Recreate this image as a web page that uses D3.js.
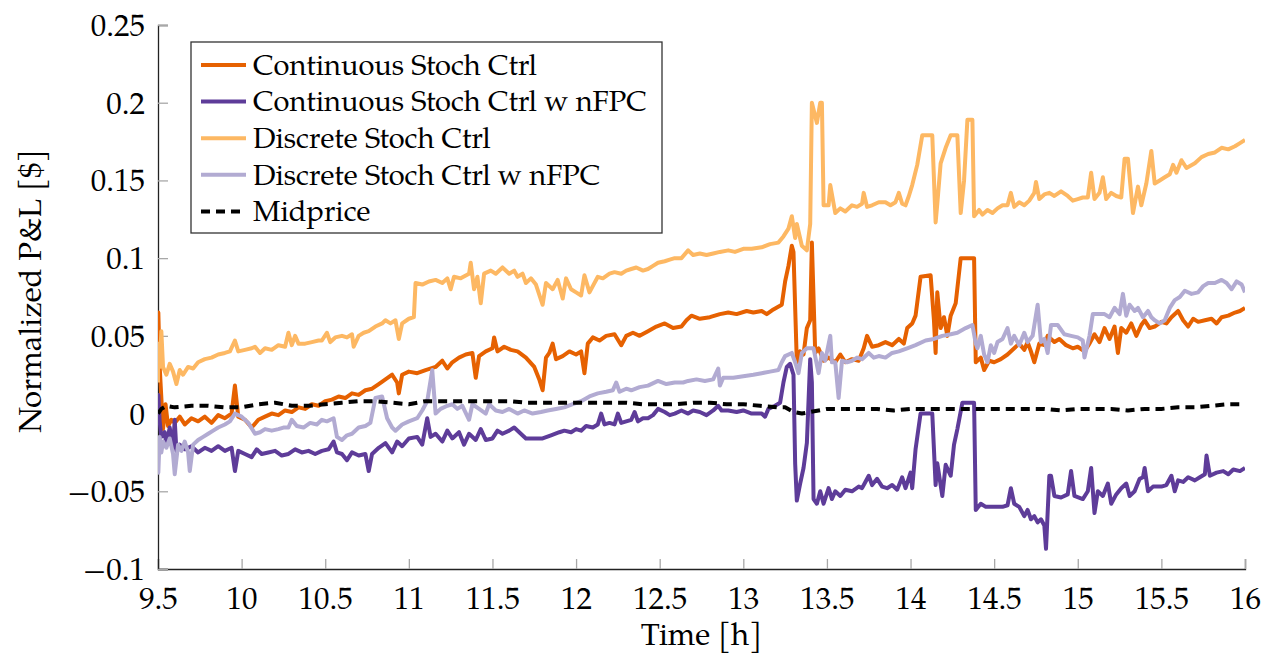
<!DOCTYPE html>
<html>
<head>
<meta charset="utf-8">
<script src="https://cdnjs.cloudflare.com/ajax/libs/d3/7.8.5/d3.min.js"></script>
<style>
  body { margin: 0; background: #fff; }
</style>
</head>
<body>
<div id="chart"></div>
<script>
// time [h] , normalized P&L [$]
var contStoch = [[9.5,0.028],[9.502,0.065],[9.51,0.03],[9.53,-0.01],[9.545,0.006],[9.56,-0.008],[9.58,-0.004],[9.6,-0.006],[9.63,-0.002],[9.66,-0.007],[9.7,-0.003],[9.74,-0.005],[9.78,-0.002],[9.82,-0.006],[9.86,-0.001],[9.9,-0.003],[9.94,0.0],[9.96,0.018],[9.98,-0.002],[10.02,-0.004],[10.06,-0.009],[10.1,-0.004],[10.14,-0.002],[10.18,0.0],[10.22,-0.001],[10.26,0.002],[10.3,0.001],[10.34,0.004],[10.38,0.003],[10.42,0.006],[10.46,0.005],[10.5,0.008],[10.54,0.009],[10.58,0.011],[10.62,0.01],[10.66,0.013],[10.7,0.012],[10.74,0.015],[10.78,0.016],[10.82,0.019],[10.86,0.022],[10.9,0.025],[10.93,0.02],[10.94,0.013],[10.96,0.025],[11.0,0.027],[11.05,0.026],[11.1,0.028],[11.16,0.03],[11.2,0.034],[11.23,0.029],[11.26,0.033],[11.3,0.036],[11.34,0.038],[11.38,0.039],[11.4,0.023],[11.42,0.037],[11.46,0.04],[11.5,0.042],[11.51,0.049],[11.53,0.04],[11.57,0.043],[11.61,0.041],[11.65,0.04],[11.7,0.036],[11.75,0.03],[11.78,0.022],[11.8,0.015],[11.82,0.036],[11.84,0.039],[11.86,0.045],[11.88,0.035],[11.92,0.037],[11.96,0.04],[12.0,0.038],[12.03,0.04],[12.05,0.026],[12.07,0.045],[12.1,0.049],[12.14,0.047],[12.18,0.05],[12.23,0.051],[12.27,0.044],[12.3,0.05],[12.34,0.052],[12.38,0.05],[12.43,0.053],[12.48,0.056],[12.53,0.058],[12.58,0.055],[12.63,0.056],[12.66,0.06],[12.69,0.063],[12.74,0.061],[12.8,0.062],[12.86,0.064],[12.91,0.065],[12.96,0.064],[13.02,0.066],[13.06,0.065],[13.11,0.066],[13.14,0.064],[13.18,0.067],[13.23,0.07],[13.25,0.085],[13.27,0.095],[13.29,0.108],[13.3,0.104],[13.32,0.033],[13.34,0.04],[13.36,0.038],[13.38,0.055],[13.4,0.06],[13.41,0.11],[13.43,0.039],[13.45,0.042],[13.48,0.034],[13.51,0.036],[13.55,0.033],[13.58,0.038],[13.61,0.033],[13.65,0.035],[13.69,0.034],[13.72,0.042],[13.74,0.05],[13.77,0.043],[13.81,0.044],[13.85,0.046],[13.89,0.044],[13.93,0.048],[13.96,0.045],[13.98,0.055],[14.01,0.058],[14.03,0.063],[14.06,0.088],[14.12,0.089],[14.14,0.06],[14.15,0.039],[14.16,0.078],[14.18,0.055],[14.2,0.062],[14.22,0.05],[14.24,0.063],[14.27,0.071],[14.3,0.1],[14.38,0.1],[14.39,0.033],[14.42,0.036],[14.44,0.028],[14.47,0.034],[14.5,0.033],[14.54,0.035],[14.58,0.038],[14.62,0.042],[14.65,0.045],[14.68,0.041],[14.7,0.046],[14.72,0.04],[14.74,0.033],[14.77,0.045],[14.8,0.044],[14.82,0.05],[14.86,0.046],[14.89,0.048],[14.93,0.044],[14.97,0.042],[15.0,0.043],[15.04,0.04],[15.07,0.045],[15.1,0.051],[15.13,0.046],[15.16,0.055],[15.19,0.048],[15.22,0.056],[15.24,0.039],[15.26,0.055],[15.29,0.052],[15.32,0.058],[15.35,0.05],[15.38,0.057],[15.4,0.06],[15.43,0.055],[15.46,0.056],[15.5,0.059],[15.53,0.058],[15.56,0.062],[15.6,0.066],[15.63,0.06],[15.66,0.056],[15.69,0.061],[15.72,0.059],[15.76,0.06],[15.8,0.061],[15.83,0.058],[15.86,0.062],[15.9,0.063],[15.94,0.065],[15.97,0.066],[16.0,0.068]];

var contStochNFPC = [[9.5,0.0],[9.502,0.012],[9.51,-0.005],[9.52,-0.015],[9.54,-0.012],[9.55,-0.02],[9.57,-0.009],[9.59,-0.022],[9.6,-0.004],[9.61,-0.024],[9.63,-0.02],[9.66,-0.023],[9.7,-0.021],[9.74,-0.025],[9.78,-0.022],[9.82,-0.024],[9.86,-0.021],[9.9,-0.024],[9.94,-0.022],[9.96,-0.037],[9.98,-0.024],[10.02,-0.026],[10.06,-0.028],[10.09,-0.023],[10.12,-0.026],[10.16,-0.025],[10.2,-0.024],[10.24,-0.027],[10.28,-0.026],[10.32,-0.023],[10.36,-0.025],[10.4,-0.024],[10.44,-0.026],[10.48,-0.024],[10.52,-0.023],[10.55,-0.018],[10.57,-0.025],[10.6,-0.026],[10.63,-0.03],[10.66,-0.025],[10.7,-0.027],[10.74,-0.026],[10.76,-0.037],[10.78,-0.026],[10.82,-0.022],[10.86,-0.019],[10.9,-0.025],[10.93,-0.018],[10.96,-0.021],[11.0,-0.016],[11.05,-0.015],[11.08,-0.02],[11.11,-0.003],[11.13,-0.015],[11.16,-0.013],[11.2,-0.018],[11.23,-0.011],[11.26,-0.016],[11.3,-0.012],[11.33,-0.02],[11.36,-0.013],[11.4,-0.017],[11.43,-0.01],[11.46,-0.017],[11.5,-0.016],[11.53,-0.011],[11.56,-0.013],[11.6,-0.011],[11.63,-0.009],[11.66,-0.012],[11.7,-0.016],[11.75,-0.016],[11.8,-0.016],[11.85,-0.014],[11.9,-0.012],[11.93,-0.011],[11.97,-0.012],[12.0,-0.01],[12.03,-0.011],[12.06,-0.008],[12.1,-0.009],[12.13,-0.007],[12.15,0.0],[12.17,-0.007],[12.2,-0.006],[12.23,-0.007],[12.25,0.0],[12.27,-0.006],[12.3,-0.005],[12.33,-0.004],[12.35,0.001],[12.37,-0.005],[12.4,-0.003],[12.43,-0.003],[12.46,-0.001],[12.49,0.003],[12.53,0.001],[12.56,-0.001],[12.59,0.0],[12.63,0.002],[12.67,0.0],[12.7,0.002],[12.74,0.001],[12.78,-0.001],[12.82,0.002],[12.85,0.005],[12.87,0.002],[12.91,0.002],[12.96,0.001],[13.0,0.002],[13.05,0.0],[13.11,0.0],[13.13,-0.002],[13.15,0.003],[13.19,0.005],[13.22,0.007],[13.24,0.02],[13.26,0.03],[13.28,0.032],[13.3,0.025],[13.31,-0.032],[13.32,-0.056],[13.34,-0.045],[13.35,-0.04],[13.36,-0.035],[13.38,-0.019],[13.4,0.035],[13.41,0.02],[13.42,-0.055],[13.44,-0.058],[13.46,-0.05],[13.48,-0.058],[13.51,-0.048],[13.53,-0.055],[13.55,-0.05],[13.58,-0.053],[13.61,-0.049],[13.65,-0.05],[13.69,-0.047],[13.71,-0.048],[13.73,-0.044],[13.75,-0.04],[13.77,-0.046],[13.8,-0.042],[13.83,-0.047],[13.86,-0.048],[13.89,-0.046],[13.92,-0.049],[13.95,-0.041],[13.97,-0.048],[14.0,-0.038],[14.01,-0.048],[14.03,-0.023],[14.06,0.0],[14.13,0.0],[14.15,-0.046],[14.16,-0.032],[14.19,-0.053],[14.21,-0.033],[14.24,-0.04],[14.26,-0.02],[14.28,-0.01],[14.31,0.007],[14.38,0.007],[14.39,-0.062],[14.42,-0.058],[14.45,-0.06],[14.5,-0.06],[14.55,-0.06],[14.58,-0.059],[14.6,-0.048],[14.62,-0.058],[14.65,-0.06],[14.68,-0.066],[14.7,-0.062],[14.72,-0.068],[14.74,-0.066],[14.76,-0.07],[14.78,-0.068],[14.8,-0.072],[14.81,-0.087],[14.83,-0.04],[14.84,-0.04],[14.86,-0.053],[14.9,-0.054],[14.94,-0.052],[14.96,-0.037],[14.98,-0.053],[15.03,-0.055],[15.06,-0.05],[15.08,-0.035],[15.1,-0.064],[15.12,-0.05],[15.15,-0.053],[15.18,-0.045],[15.2,-0.058],[15.23,-0.052],[15.26,-0.048],[15.29,-0.045],[15.31,-0.053],[15.34,-0.05],[15.37,-0.042],[15.39,-0.041],[15.4,-0.035],[15.42,-0.05],[15.45,-0.047],[15.5,-0.047],[15.53,-0.046],[15.56,-0.04],[15.58,-0.05],[15.6,-0.043],[15.63,-0.044],[15.66,-0.041],[15.7,-0.043],[15.73,-0.041],[15.76,-0.039],[15.77,-0.027],[15.79,-0.04],[15.83,-0.038],[15.87,-0.037],[15.9,-0.039],[15.93,-0.036],[15.97,-0.037],[16.0,-0.035]];

var discStoch = [[9.5,0.02],[9.502,0.045],[9.51,0.03],[9.52,0.053],[9.53,0.03],[9.55,0.025],[9.57,0.032],[9.59,0.027],[9.61,0.019],[9.63,0.028],[9.65,0.025],[9.68,0.03],[9.71,0.029],[9.74,0.033],[9.78,0.035],[9.82,0.036],[9.86,0.038],[9.9,0.039],[9.93,0.04],[9.96,0.047],[9.98,0.04],[10.02,0.041],[10.06,0.042],[10.08,0.043],[10.11,0.039],[10.14,0.042],[10.18,0.041],[10.22,0.044],[10.26,0.043],[10.28,0.052],[10.3,0.044],[10.32,0.05],[10.34,0.045],[10.38,0.045],[10.42,0.046],[10.46,0.047],[10.48,0.047],[10.51,0.052],[10.53,0.046],[10.56,0.049],[10.6,0.05],[10.63,0.049],[10.66,0.051],[10.67,0.043],[10.7,0.05],[10.73,0.052],[10.76,0.053],[10.8,0.056],[10.84,0.058],[10.86,0.06],[10.89,0.058],[10.92,0.06],[10.94,0.048],[10.96,0.058],[11.0,0.061],[11.03,0.062],[11.04,0.084],[11.08,0.083],[11.12,0.085],[11.16,0.086],[11.2,0.084],[11.23,0.087],[11.25,0.08],[11.27,0.088],[11.31,0.087],[11.36,0.09],[11.37,0.097],[11.39,0.08],[11.41,0.088],[11.43,0.071],[11.45,0.09],[11.49,0.092],[11.52,0.09],[11.56,0.094],[11.6,0.09],[11.63,0.092],[11.65,0.088],[11.68,0.09],[11.7,0.084],[11.73,0.087],[11.76,0.083],[11.8,0.07],[11.82,0.084],[11.86,0.08],[11.89,0.086],[11.92,0.074],[11.94,0.087],[11.97,0.08],[12.0,0.078],[12.03,0.076],[12.05,0.089],[12.08,0.078],[12.1,0.082],[12.13,0.088],[12.16,0.087],[12.2,0.09],[12.23,0.091],[12.27,0.09],[12.3,0.092],[12.33,0.093],[12.36,0.094],[12.4,0.092],[12.43,0.093],[12.46,0.095],[12.49,0.097],[12.53,0.098],[12.56,0.099],[12.59,0.1],[12.63,0.1],[12.67,0.105],[12.7,0.102],[12.74,0.103],[12.78,0.102],[12.82,0.103],[12.86,0.104],[12.91,0.105],[12.95,0.104],[13.0,0.106],[13.05,0.106],[13.11,0.107],[13.16,0.109],[13.21,0.11],[13.24,0.114],[13.27,0.119],[13.29,0.127],[13.31,0.113],[13.32,0.122],[13.35,0.108],[13.38,0.105],[13.4,0.122],[13.41,0.2],[13.44,0.187],[13.46,0.2],[13.47,0.2],[13.48,0.134],[13.51,0.134],[13.52,0.147],[13.55,0.129],[13.58,0.132],[13.61,0.13],[13.65,0.134],[13.68,0.133],[13.71,0.135],[13.72,0.142],[13.74,0.133],[13.77,0.134],[13.81,0.136],[13.85,0.136],[13.88,0.134],[13.91,0.136],[13.93,0.142],[13.95,0.135],[13.97,0.134],[13.99,0.14],[14.01,0.147],[14.04,0.16],[14.07,0.179],[14.13,0.179],[14.15,0.123],[14.16,0.135],[14.18,0.161],[14.21,0.171],[14.24,0.179],[14.28,0.179],[14.3,0.129],[14.32,0.15],[14.34,0.189],[14.37,0.189],[14.38,0.127],[14.41,0.131],[14.43,0.128],[14.46,0.131],[14.49,0.129],[14.52,0.132],[14.55,0.134],[14.58,0.134],[14.6,0.142],[14.62,0.133],[14.65,0.136],[14.68,0.134],[14.71,0.137],[14.74,0.142],[14.75,0.149],[14.77,0.138],[14.8,0.141],[14.83,0.142],[14.86,0.14],[14.9,0.143],[14.94,0.14],[14.97,0.137],[15.0,0.138],[15.03,0.139],[15.06,0.139],[15.08,0.155],[15.1,0.138],[15.13,0.142],[15.15,0.152],[15.17,0.138],[15.2,0.142],[15.23,0.14],[15.26,0.139],[15.28,0.164],[15.3,0.164],[15.33,0.129],[15.36,0.146],[15.38,0.134],[15.41,0.148],[15.44,0.169],[15.46,0.148],[15.49,0.15],[15.52,0.152],[15.55,0.154],[15.57,0.16],[15.59,0.155],[15.62,0.163],[15.65,0.158],[15.7,0.161],[15.74,0.165],[15.78,0.167],[15.82,0.168],[15.86,0.171],[15.9,0.17],[15.94,0.172],[15.97,0.174],[16.0,0.176]];

var discStochNFPC = [[9.5,-0.02],[9.502,-0.038],[9.51,-0.015],[9.52,-0.025],[9.53,-0.018],[9.55,-0.022],[9.57,-0.016],[9.59,-0.026],[9.6,-0.039],[9.62,-0.02],[9.64,-0.024],[9.66,-0.018],[9.68,-0.025],[9.69,-0.037],[9.71,-0.02],[9.74,-0.017],[9.77,-0.015],[9.8,-0.013],[9.83,-0.011],[9.86,-0.009],[9.9,-0.007],[9.93,-0.005],[9.96,0.0],[10.0,-0.002],[10.04,-0.006],[10.08,-0.013],[10.11,-0.012],[10.14,-0.01],[10.18,-0.011],[10.22,-0.01],[10.25,-0.009],[10.28,-0.009],[10.3,-0.004],[10.33,-0.008],[10.37,-0.009],[10.41,-0.006],[10.45,-0.007],[10.48,-0.004],[10.51,-0.005],[10.55,-0.003],[10.57,-0.015],[10.6,-0.017],[10.63,-0.014],[10.66,-0.013],[10.7,-0.009],[10.74,-0.008],[10.77,-0.006],[10.8,0.01],[10.84,0.011],[10.87,-0.003],[10.9,-0.009],[10.92,-0.011],[10.96,-0.007],[11.0,-0.005],[11.05,-0.003],[11.08,0.002],[11.11,0.008],[11.14,0.028],[11.16,0.0],[11.19,0.003],[11.23,0.005],[11.26,0.006],[11.29,0.003],[11.32,0.005],[11.36,-0.004],[11.38,0.006],[11.42,0.003],[11.46,0.0],[11.48,0.006],[11.52,0.002],[11.56,0.001],[11.6,0.003],[11.65,0.0],[11.69,0.002],[11.74,0.0],[11.79,0.001],[11.83,0.002],[11.88,0.003],[11.93,0.004],[11.98,0.006],[12.03,0.008],[12.08,0.011],[12.13,0.013],[12.18,0.014],[12.22,0.015],[12.24,0.02],[12.26,0.014],[12.3,0.016],[12.33,0.015],[12.38,0.017],[12.43,0.018],[12.49,0.021],[12.54,0.019],[12.59,0.02],[12.64,0.02],[12.67,0.021],[12.72,0.022],[12.77,0.021],[12.82,0.022],[12.85,0.029],[12.86,0.018],[12.88,0.023],[12.94,0.023],[13.0,0.024],[13.06,0.025],[13.11,0.026],[13.16,0.027],[13.21,0.028],[13.23,0.033],[13.25,0.037],[13.29,0.039],[13.31,0.033],[13.33,0.026],[13.35,0.039],[13.38,0.042],[13.42,0.042],[13.45,0.026],[13.47,0.039],[13.49,0.034],[13.52,0.05],[13.53,0.033],[13.55,0.033],[13.57,0.01],[13.59,0.034],[13.62,0.033],[13.65,0.034],[13.68,0.036],[13.71,0.035],[13.75,0.039],[13.78,0.036],[13.81,0.037],[13.85,0.036],[13.89,0.039],[13.93,0.04],[13.98,0.042],[14.03,0.044],[14.09,0.047],[14.14,0.048],[14.19,0.05],[14.24,0.051],[14.28,0.052],[14.33,0.055],[14.37,0.057],[14.39,0.045],[14.4,0.042],[14.42,0.05],[14.44,0.038],[14.46,0.033],[14.48,0.044],[14.5,0.039],[14.52,0.046],[14.55,0.048],[14.58,0.055],[14.6,0.045],[14.62,0.05],[14.65,0.044],[14.68,0.052],[14.7,0.046],[14.73,0.05],[14.76,0.07],[14.78,0.046],[14.8,0.048],[14.82,0.039],[14.84,0.057],[14.88,0.057],[14.92,0.051],[14.96,0.05],[15.0,0.049],[15.03,0.047],[15.04,0.036],[15.07,0.05],[15.09,0.064],[15.12,0.064],[15.16,0.064],[15.19,0.062],[15.22,0.068],[15.25,0.064],[15.27,0.077],[15.29,0.063],[15.31,0.07],[15.34,0.066],[15.36,0.068],[15.39,0.062],[15.42,0.066],[15.44,0.062],[15.46,0.06],[15.49,0.058],[15.52,0.06],[15.55,0.068],[15.58,0.073],[15.61,0.075],[15.64,0.079],[15.68,0.077],[15.72,0.078],[15.75,0.082],[15.78,0.084],[15.82,0.084],[15.86,0.086],[15.89,0.084],[15.92,0.08],[15.95,0.085],[15.98,0.083],[16.0,0.078]];

var midprice = [[9.5,0.0],[9.52,0.003],[9.55,0.005],[9.6,0.004],[9.7,0.005],[9.8,0.005],[9.9,0.004],[10.0,0.004],[10.1,0.006],[10.2,0.007],[10.3,0.005],[10.4,0.005],[10.5,0.006],[10.6,0.007],[10.7,0.008],[10.8,0.008],[10.9,0.007],[11.0,0.006],[11.1,0.008],[11.2,0.008],[11.3,0.008],[11.4,0.008],[11.5,0.008],[11.6,0.008],[11.7,0.007],[11.8,0.007],[11.9,0.007],[12.0,0.007],[12.1,0.007],[12.2,0.007],[12.3,0.007],[12.4,0.006],[12.5,0.006],[12.6,0.006],[12.7,0.007],[12.8,0.007],[12.9,0.006],[13.0,0.006],[13.1,0.005],[13.2,0.004],[13.25,0.004],[13.3,0.001],[13.35,0.0],[13.4,0.001],[13.45,0.002],[13.5,0.003],[13.6,0.003],[13.7,0.003],[13.8,0.003],[13.9,0.002],[14.0,0.003],[14.1,0.003],[14.2,0.003],[14.3,0.003],[14.4,0.003],[14.5,0.003],[14.6,0.003],[14.7,0.003],[14.8,0.003],[14.9,0.002],[15.0,0.003],[15.1,0.003],[15.2,0.003],[15.3,0.002],[15.4,0.003],[15.5,0.003],[15.6,0.004],[15.7,0.004],[15.8,0.005],[15.9,0.006],[16.0,0.006]];

var seriesNames = ["Continuous Stoch Ctrl", "Continuous Stoch Ctrl w nFPC", "Discrete Stoch Ctrl", "Discrete Stoch Ctrl w nFPC", "Midprice"];
var seriesColors = ["#e66101", "#5e3c99", "#fdb863", "#b2abd2", "#000000"];
var xTicks = [9.5, 10, 10.5, 11, 11.5, 12, 12.5, 13, 13.5, 14, 14.5, 15, 15.5, 16];
var yTicks = [-0.1, -0.05, 0, 0.05, 0.1, 0.15, 0.2, 0.25];

var allSeries = [contStoch, contStochNFPC, discStoch, discStochNFPC, midprice];

var fontFam = "TeX Gyre Pagella, Liberation Serif, serif";

var margin = {top: 25, left: 158},
    width = 1245 - margin.left,
    height = 569 - margin.top;

var svg = d3.select("#chart").append("svg")
    .attr("width", 1265)
    .attr("height", 653)
    .attr("font-family", fontFam);

var g = svg.append("g")
    .attr("transform", "translate(" + margin.left + "," + margin.top + ")");

var xScale = d3.scaleLinear().domain([9.5, 16]).range([0, width]);
var yScale = d3.scaleLinear().domain([-0.1, 0.25]).range([height, 0]);

var fmtY = function(d) { return d === 0 ? "0" : (d < 0 ? "\u2212" + Math.abs(d) : "" + d); };

g.append("defs").append("clipPath").attr("id", "clip")
  .append("rect").attr("x", 0).attr("y", 0).attr("width", width).attr("height", height);

// axes (ticks point inward, like pgfplots)
var xAxis = d3.axisBottom(xScale).tickValues(xTicks).tickSize(-10).tickPadding(18).tickFormat(function(d) { return "" + d; });
var yAxis = d3.axisLeft(yScale).tickValues(yTicks).tickSize(-10).tickPadding(13).tickFormat(fmtY);

var gx = g.append("g").attr("transform", "translate(0," + height + ")").call(xAxis);
var gy = g.append("g").call(yAxis);

[gx, gy].forEach(function(a) {
  a.attr("font-family", fontFam).attr("font-size", 31);
  a.selectAll("text").attr("font-family", fontFam).attr("font-size", 31).attr("fill", "#000");
  a.selectAll(".tick line").attr("stroke", "#a8a8a8").attr("stroke-width", 1.3);
  a.select(".domain").attr("stroke", "#222").attr("stroke-width", 1.3);
});
gx.selectAll("text").attr("dy", "0.71em");
gy.selectAll("text").attr("dy", "0.34em");

// lines
var line = d3.line()
  .x(function(d) { return xScale(d[0]); })
  .y(function(d) { return yScale(d[1]); });

var plot = g.append("g").attr("clip-path", "url(#clip)");

plot.selectAll(".series")
  .data(allSeries)
  .enter().append("path")
    .attr("class", "series")
    .attr("d", line)
    .attr("fill", "none")
    .attr("stroke", function(d, i) { return seriesColors[i]; })
    .attr("stroke-width", 4)
    .attr("stroke-linejoin", "round")
    .attr("stroke-dasharray", function(d, i) { return i === 4 ? "9,6" : null; });

// axis labels
svg.append("text")
  .attr("x", margin.left + width / 2)
  .attr("y", 645)
  .attr("text-anchor", "middle")
  .attr("font-family", fontFam)
  .attr("font-size", 31)
  .text("Time [h]");

svg.append("text")
  .attr("transform", "translate(41," + (margin.top + height / 2 - 6) + ") rotate(-90)")
  .attr("text-anchor", "middle")
  .attr("font-family", fontFam)
  .attr("font-size", 31)
  .text("Normalized P&L [$]");

// legend
var legend = svg.append("g").attr("transform", "translate(191,42)");
legend.append("rect")
  .attr("width", 471).attr("height", 191)
  .attr("fill", "#fff").attr("stroke", "#333").attr("stroke-width", 1.3);

var item = legend.selectAll(".item")
  .data(seriesNames)
  .enter().append("g")
    .attr("class", "item")
    .attr("transform", function(d, i) { return "translate(0," + (23 + i * 36.6) + ")"; });

item.append("line")
  .attr("x1", 10).attr("x2", 55)
  .attr("stroke", function(d, i) { return seriesColors[i]; })
  .attr("stroke-width", 4)
  .attr("stroke-dasharray", function(d, i) { return i === 4 ? "9,6" : null; });

item.append("text")
  .attr("x", 62).attr("dy", "0.34em")
  .attr("font-family", fontFam)
  .attr("font-size", 29)
  .text(function(d) { return d; });
</script>
</body>
</html>
